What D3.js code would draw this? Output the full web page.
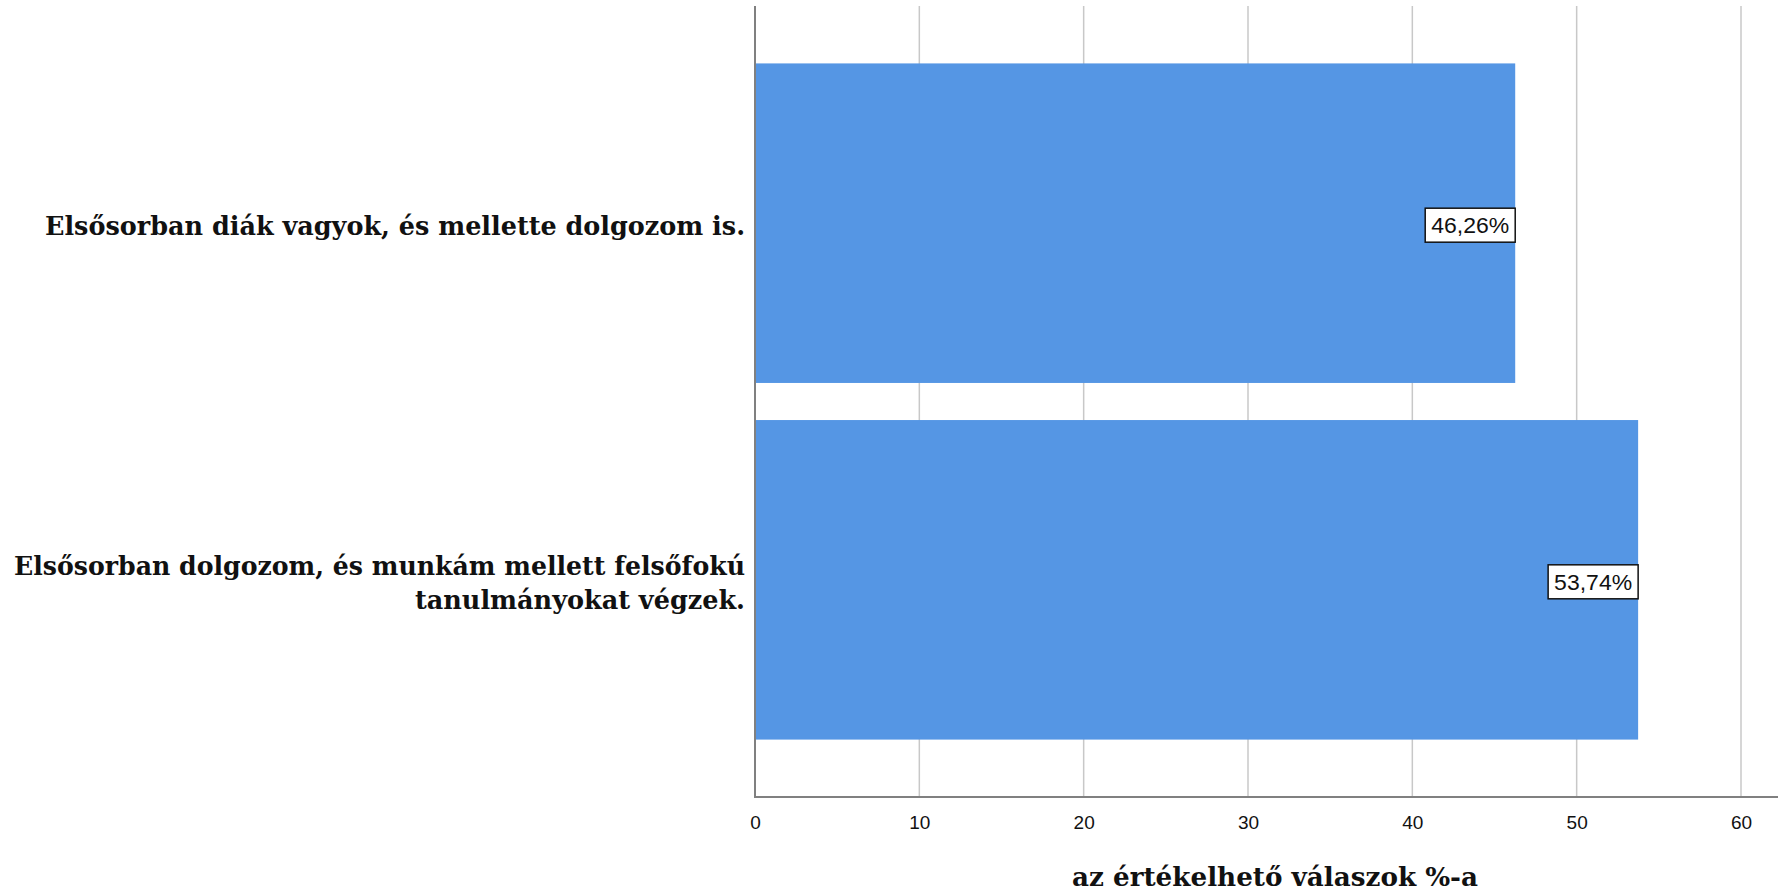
<!DOCTYPE html>
<html><head><meta charset="utf-8">
<script src="https://cdn.jsdelivr.net/npm/d3@7"></script>
<style>body{margin:0;background:#fff;} svg{display:block;}</style>
</head><body>
<svg id="c" width="1778" height="891"></svg>
<script>
const categories = [
  ["Elsősorban diák vagyok, és mellette dolgozom is."],
  ["Elsősorban dolgozom, és munkám mellett felsőfokú", "tanulmányokat végzek."]
];
const values = [46.26, 53.74];
const valueLabels = ["46,26%", "53,74%"];
const tickValues = [0, 10, 20, 30, 40, 50, 60];
const xTitle = "az értékelhető válaszok %-a";

const svg = d3.select("#c");
const x0 = 755, yTop = 6, yBot = 797;
const x = d3.scaleLinear().domain([0, 60]).range([x0, 1741]);
const y = d3.scaleBand().domain(d3.range(categories.length)).range([yTop, yBot])
  .paddingInner(0.104).paddingOuter(0.161);

// grid
svg.append("g").selectAll("line").data(tickValues.filter(d => d > 0)).join("line")
  .attr("x1", d => x(d)).attr("x2", d => x(d)).attr("y1", yTop).attr("y2", yBot)
  .attr("stroke", "#c8c8c8").attr("stroke-width", 1.5);

// bars
svg.append("g").selectAll("rect").data(values).join("rect")
  .attr("x", x(0)).attr("y", (d, i) => y(i))
  .attr("width", d => x(d) - x(0)).attr("height", y.bandwidth())
  .attr("fill", "#5596e4");

// axes lines
svg.append("line").attr("x1", x0).attr("x2", x0).attr("y1", yTop).attr("y2", yBot + 1)
  .attr("stroke", "#808080").attr("stroke-width", 2);
svg.append("line").attr("x1", x0 - 1).attr("x2", 1778).attr("y1", yBot).attr("y2", yBot)
  .attr("stroke", "#808080").attr("stroke-width", 2);

// tick labels
const xAxis = d3.axisBottom(x).tickValues(tickValues).tickSize(0).tickPadding(19);
const gx = svg.append("g").attr("transform", `translate(0,${yBot})`).call(xAxis);
gx.select(".domain").remove();
gx.selectAll("text").attr("font-family", "Liberation Sans, Arial, sans-serif")
  .attr("font-size", 19).attr("fill", "#111");

// value labels
const lg = svg.append("g");
values.forEach((v, i) => {
  const cy = y(i) + y.bandwidth() / 2 + 2;
  const w = 90, h = 34;
  lg.append("rect").attr("x", x(v) - w).attr("y", cy - h / 2).attr("width", w).attr("height", h)
    .attr("fill", "#fff").attr("stroke", "#111").attr("stroke-width", 1.5);
  lg.append("text").attr("x", x(v) - w / 2).attr("y", cy).attr("dy", "0.36em")
    .attr("text-anchor", "middle").attr("font-family", "Liberation Sans, Arial, sans-serif")
    .attr("font-size", 22).attr("textLength", 78).attr("lengthAdjust", "spacingAndGlyphs")
    .attr("fill", "#111").text(valueLabels[i]);
});

// category labels
const catWidths = [[700], [731, 330]];
const cg = svg.append("g");
categories.forEach((lines, i) => {
  const cy = y(i) + y.bandwidth() / 2;
  const lh = 34;
  lines.forEach((t, j) => {
    cg.append("text").attr("x", x0 - 10)
      .attr("y", cy + (j - (lines.length - 1) / 2) * lh + 3)
      .attr("dy", "0.35em").attr("text-anchor", "end")
      .attr("font-family", "DejaVu Serif Condensed, DejaVu Serif, serif")
      .attr("font-weight", "bold").attr("font-size", 26)
      .attr("textLength", catWidths[i][j]).attr("lengthAdjust", "spacingAndGlyphs")
      .attr("fill", "#111").text(t);
  });
});

// x title
svg.append("text").attr("x", 1275).attr("y", 877).attr("dy", "0.35em")
  .attr("text-anchor", "middle")
  .attr("font-family", "DejaVu Serif Condensed, DejaVu Serif, serif")
  .attr("font-weight", "bold").attr("font-size", 26)
  .attr("textLength", 406).attr("lengthAdjust", "spacingAndGlyphs")
  .attr("fill", "#111").text(xTitle);
</script>
</body></html>
